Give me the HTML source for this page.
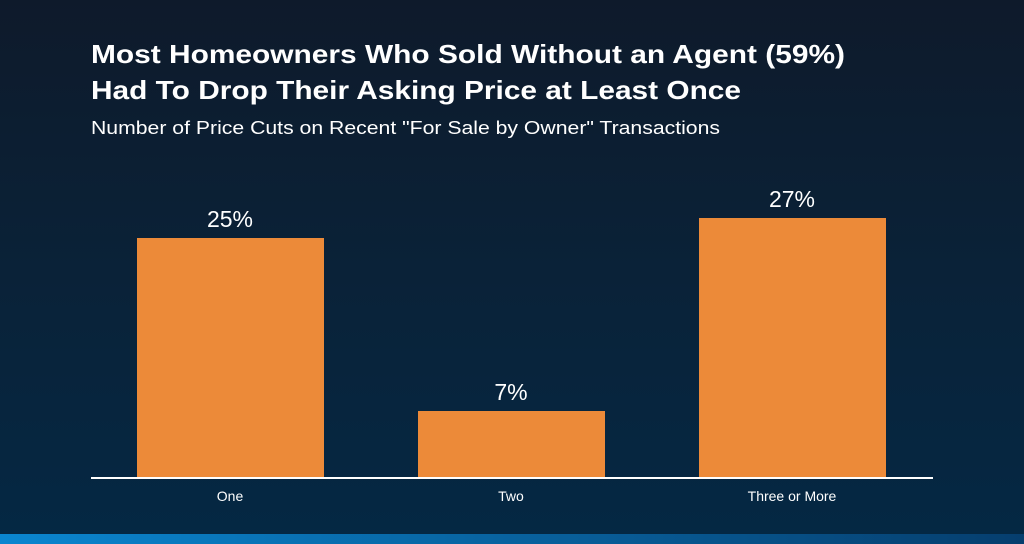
<!DOCTYPE html>
<html><head><style>
html,body{margin:0;padding:0}
body{width:1024px;height:544px;overflow:hidden;background:linear-gradient(180deg,#0e1a2b 0%,#0a2238 50%,#042844 100%);font-family:"Liberation Sans",sans-serif}
</style></head><body>
<svg width="1024" height="544" xmlns="http://www.w3.org/2000/svg" style="position:absolute;left:0;top:0">
<defs><linearGradient id="s" x1="0" x2="1"><stop offset="0" stop-color="#0a86d0"/><stop offset="1" stop-color="#063e6e"/></linearGradient></defs>
<g fill="#fff" font-family="Liberation Sans, sans-serif">
<text x="91" y="63" font-size="26" font-weight="bold" textLength="754" lengthAdjust="spacingAndGlyphs">Most Homeowners Who Sold Without an Agent (59%)</text>
<text x="91" y="99" font-size="26" font-weight="bold" textLength="650" lengthAdjust="spacingAndGlyphs">Had To Drop Their Asking Price at Least Once</text>
<text x="91" y="134" font-size="18" textLength="629" lengthAdjust="spacingAndGlyphs">Number of Price Cuts on Recent "For Sale by Owner" Transactions</text>
</g>
<g fill="#ec8a39">
<rect x="137" y="238" width="187" height="240"/>
<rect x="418" y="411" width="187" height="67"/>
<rect x="699" y="218" width="187" height="260"/>
</g>
<rect x="91" y="477" width="842" height="2" fill="#fff"/>
<g fill="#fff" font-family="Liberation Sans, sans-serif" text-anchor="middle">
<text x="230" y="227" font-size="23">25%</text>
<text x="511" y="400" font-size="23">7%</text>
<text x="792" y="207" font-size="23">27%</text>
<text x="230" y="501" font-size="14">One</text>
<text x="511" y="501" font-size="14">Two</text>
<text x="792" y="501" font-size="14">Three or More</text>
</g>
<rect x="0" y="534" width="1024" height="10" fill="url(#s)"/>
</svg>
</body></html>
